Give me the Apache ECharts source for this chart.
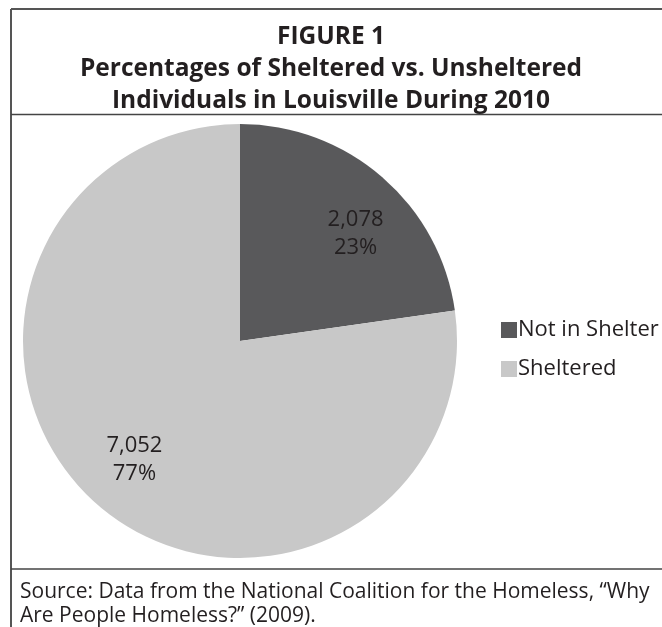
<!DOCTYPE html>
<html>
<head>
<meta charset="utf-8">
<script src="https://cdn.jsdelivr.net/npm/echarts@6/dist/echarts.min.js"></script>
<style>
  html, body { margin: 0; padding: 0; background: #fff; }
  #main { width: 662px; height: 627px; }
</style>
</head>
<body>
<div id="main"></div>
<script>
var categories = ['Not in Shelter', 'Sheltered'];
var counts = [2078, 7052];
var percents = ['23%', '77%'];
var colors = ['#59595b', '#c8c8c8'];

var txtColor = '#231f20';
var font = '"Open Sans", "Noto Sans", sans-serif';

var chart = echarts.init(document.getElementById('main'));

// label nudges to sit where the original put them
var labelOffsets = [[10, 14], [0, -3]];

var pieData = [];
var labelData = [];
for (var i = 0; i < categories.length; i++) {
    pieData.push({ name: categories[i], value: counts[i], itemStyle: { color: colors[i] } });
    labelData.push({
        name: categories[i],
        value: counts[i],
        label: { offset: labelOffsets[i] }
    });
}

var option = {
    backgroundColor: '#fff',
    animation: false,
    title: {
        text: 'FIGURE 1\nPercentages of Sheltered vs. Unsheltered\nIndividuals in Louisville During 2010',
        left: 'center',
        top: 16,
        textStyle: {
            fontFamily: font,
            fontWeight: 'bold',
            fontSize: 24.5,
            lineHeight: 32,
            color: txtColor
        }
    },
    legend: {
        orient: 'vertical',
        left: 496,
        top: 314,
        itemWidth: 16,
        itemHeight: 16,
        itemGap: 17,
        icon: 'rect',
        data: categories,
        textStyle: { fontFamily: font, fontSize: 22, color: txtColor, padding: [0, 0, 0, -4] }
    },
    series: [
        {
            type: 'pie',
            center: [240, 341],
            radius: [0, 217],
            startAngle: 90,
            clockwise: true,
            silent: true,
            label: { show: false },
            labelLine: { show: false },
            data: pieData
        },
        {
            type: 'pie',
            center: [240, 341],
            radius: [100, 216],
            startAngle: 90,
            clockwise: true,
            silent: true,
            legendHoverLink: false,
            itemStyle: { color: 'rgba(0,0,0,0)' },
            label: {
                show: true,
                position: 'inside',
                fontFamily: font,
                fontSize: 22,
                lineHeight: 28,
                color: txtColor,
                formatter: function (p) {
                    return p.value.toLocaleString('en-US') + '\n' + percents[p.dataIndex];
                }
            },
            labelLine: { show: false },
            data: labelData
        }
    ],
    graphic: [
        { type: 'line', shape: { x1: 11, y1: 9, x2: 662, y2: 9 }, style: { stroke: '#555', lineWidth: 2 } },
        { type: 'line', shape: { x1: 11, y1: 9, x2: 11, y2: 627 }, style: { stroke: '#555', lineWidth: 2 } },
        { type: 'line', shape: { x1: 11, y1: 114.5, x2: 662, y2: 114.5 }, style: { stroke: '#444', lineWidth: 1.5 } },
        { type: 'line', shape: { x1: 11, y1: 569, x2: 662, y2: 569 }, style: { stroke: '#444', lineWidth: 1.5 } },
        {
            type: 'text',
            left: 20,
            top: 580,
            style: {
                text: 'Source: Data from the National Coalition for the Homeless, \u201cWhy\nAre People Homeless?\u201d (2009).',
                font: '21px ' + font,
                lineHeight: 24,
                fill: txtColor
            }
        }
    ]
};

chart.setOption(option);
</script>
</body>
</html>
